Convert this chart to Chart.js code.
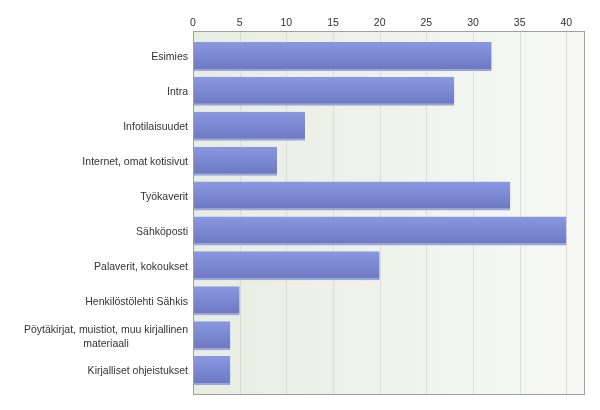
<!DOCTYPE html>
<html>
<head>
<meta charset="utf-8">
<script src="https://cdn.jsdelivr.net/npm/chart.js@4"></script>
<style>
html,body{margin:0;padding:0;background:#fff;}
#wrap{width:600px;height:410px;position:relative;}
</style>
</head>
<body>
<div id="wrap"><canvas id="c" width="600" height="410"></canvas></div>
<script>
const categories = [
  "Esimies",
  "Intra",
  "Infotilaisuudet",
  "Internet, omat kotisivut",
  "Työkaverit",
  "Sähköposti",
  "Palaverit, kokoukset",
  "Henkilöstölehti Sähkis",
  ["Pöytäkirjat, muistiot, muu kirjallinen", "materiaali"],
  "Kirjalliset ohjeistukset"
];
const values = [32, 28, 12, 9, 34, 40, 20, 5, 4, 4];
const tickValues = [0, 5, 10, 15, 20, 25, 30, 35, 40];

const FONT = "'Liberation Sans', Arial, sans-serif";
const PAD_TOP = 8, PAD_BOTTOM = 7;

const bgPlugin = {
  id: 'bgPlugin',
  beforeDatasetsDraw(chart) {
    const {ctx, chartArea: a} = chart;
    const top = a.top - PAD_TOP, bottom = a.bottom + PAD_BOTTOM;
    const g = ctx.createLinearGradient(a.left, 0, a.right, 0);
    g.addColorStop(0, '#e8ede2');
    g.addColorStop(1, '#f7f8f5');
    ctx.save();
    ctx.fillStyle = g;
    ctx.fillRect(a.left, top, a.right - a.left, bottom - top);
    ctx.strokeStyle = '#dcdcdc';
    ctx.lineWidth = 1;
    const x = chart.scales.x;
    tickValues.forEach(v => {
      if (v === 0) return;
      const px = Math.round(x.getPixelForValue(v)) + 0.5;
      ctx.beginPath();
      ctx.moveTo(px, top);
      ctx.lineTo(px, bottom);
      ctx.stroke();
    });
    ctx.restore();
  },
  afterDatasetsDraw(chart) {
    const {ctx, chartArea: a} = chart;
    const top = a.top - PAD_TOP, bottom = a.bottom + PAD_BOTTOM;
    ctx.save();
    ctx.strokeStyle = '#a0a0a0';
    ctx.lineWidth = 1;
    ctx.strokeRect(a.left + 0.5, top + 0.5, a.right - a.left - 1, bottom - top - 1);
    ctx.restore();
  },
  afterDraw(chart) {
    const {ctx} = chart;
    const y = chart.scales.y;
    ctx.save();
    ctx.font = '10.5px ' + FONT;
    ctx.fillStyle = '#333333';
    ctx.textBaseline = 'middle';
    const right = y.right - 5;
    const lh = 14;
    categories.forEach((lab, i) => {
      const lines = Array.isArray(lab) ? lab : [lab];
      const widths = lines.map(l => ctx.measureText(l).width);
      const maxW = Math.max(...widths);
      const cx = right - maxW / 2;
      const cy = y.getPixelForValue(i) + 1;
      const y0 = cy - (lines.length - 1) * lh / 2;
      ctx.textAlign = 'center';
      lines.forEach((l, k) => ctx.fillText(l, cx, y0 + k * lh));
    });
    ctx.restore();
  }
};

function barGradient(context) {
  const chart = context.chart;
  if (!chart.chartArea) return '#7f8cd6';
  const y = chart.scales.y;
  const cy = y.getPixelForValue(context.dataIndex);
  const h = 29;
  const g = chart.ctx.createLinearGradient(0, cy - h / 2, 0, cy + h / 2);
  g.addColorStop(0, '#8a98e2');
  g.addColorStop(1, '#6b78c0');
  return g;
}

new Chart(document.getElementById('c'), {
  type: 'bar',
  data: {
    labels: categories,
    datasets: [{
      data: values,
      backgroundColor: barGradient,
      borderColor: '#9aa5dc',
      borderWidth: {top: 0, left: 0, right: 0, bottom: 2},
      borderSkipped: false,
      categoryPercentage: 1.0,
      barPercentage: 0.83
    }]
  },
  options: {
    indexAxis: 'y',
    responsive: false,
    animation: false,
    layout: {padding: {left: 0, top: 0, right: 15, bottom: 22}},
    plugins: {legend: {display: false}, tooltip: {enabled: false}},
    scales: {
      x: {
        position: 'top',
        min: 0,
        max: 42,
        afterBuildTicks(scale) { scale.ticks = tickValues.map(v => ({value: v})); },
        afterFit(scale) { scale.height = 39; },
        grid: {display: false, drawTicks: false},
        border: {display: false},
        ticks: {padding: 10, color: '#333333', font: {family: FONT, size: 10.5}}
      },
      y: {
        afterFit(scale) { scale.width = 193; },
        grid: {display: false, drawTicks: false},
        border: {display: false},
        ticks: {display: false}
      }
    }
  },
  plugins: [bgPlugin]
});
</script>
</body>
</html>
